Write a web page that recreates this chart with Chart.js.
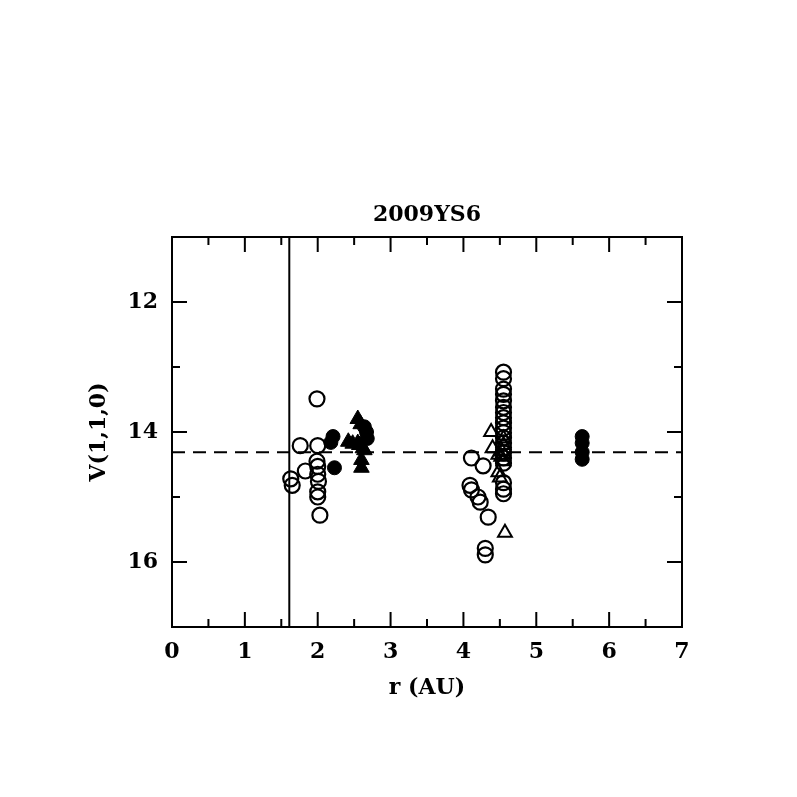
<!DOCTYPE html>
<html>
<head>
<meta charset="utf-8">
<script src="https://cdn.jsdelivr.net/npm/chart.js@4"></script>
<style>
  html, body { margin: 0; padding: 0; background: #fff; }
  canvas { display: block; }
</style>
</head>
<body>
<canvas id="chart" width="797" height="797"></canvas>
<script>
// r (AU), V(1,1,0)
const openCircleR = [1.63, 1.65, 1.76, 1.83, 1.99, 2.0, 1.99, 2.0, 2.0, 2.01, 2.0, 2.0, 2.03,
    4.11, 4.27, 4.09, 4.11, 4.2, 4.23, 4.34, 4.3, 4.3,
    4.55, 4.55, 4.55, 4.55, 4.55, 4.55, 4.55, 4.55, 4.55, 4.55, 4.55, 4.55, 4.55, 4.55, 4.55, 4.55, 4.55, 4.55, 4.55, 4.55];
const openCircleV = [14.72, 14.82, 14.21, 14.6, 13.49, 14.21, 14.45, 14.53, 14.65, 14.76, 14.92, 15.0, 15.28,
    14.4, 14.52, 14.82, 14.89, 15.0, 15.08, 15.31, 15.79, 15.89,
    13.08, 13.18, 13.34, 13.42, 13.52, 13.62, 13.7, 13.78, 13.86, 13.94, 14.01, 14.09, 14.17, 14.24, 14.32, 14.4, 14.48, 14.78, 14.88, 14.95];

const filledCircleR = [2.21, 2.18, 2.23, 2.64, 2.67, 2.68, 5.63, 5.63, 5.63, 5.63];
const filledCircleV = [14.07, 14.16, 14.55, 13.92, 14.0, 14.1, 14.07, 14.17, 14.31, 14.42];

const filledTriR = [2.42, 2.48, 2.55, 2.59, 2.62, 2.6, 2.6, 2.57, 2.64, 2.55];
const filledTriV = [14.15, 14.18, 13.8, 13.88, 14.25, 14.43, 14.55, 14.2, 14.28, 14.17];

const openTriR = [4.38, 4.4, 4.5, 4.57, 4.48, 4.52, 4.55, 4.55, 4.53, 4.48, 4.55];
const openTriV = [14.0, 14.25, 14.7, 15.55, 14.35, 14.38, 14.1, 14.45, 14.3, 14.62, 14.2];

const meanV = 14.31;       // dashed horizontal line
const rLimit = 1.61;       // solid vertical line
const xRange = [0, 7];
const yRange = [11, 17];
const yTickValues = [12, 14, 16];
const xMinorStep = 0.5;
const yMinorStep = 1;
const plotTitle = "2009YS6";

function pts(xs, ys) {
    return xs.map((x, i) => ({ x: x, y: ys[i] }));
}

const FONT = "'DejaVu Serif', serif";

// frame with inward ticks on all four sides, plus the title over the plot box
const framePlugin = {
    id: "frame",
    afterDatasetsDraw(chart) {
        const ctx = chart.ctx;
        const a = chart.chartArea;
        const xs = chart.scales.x;
        const ys = chart.scales.y;
        ctx.save();
        ctx.strokeStyle = "#000";
        ctx.lineWidth = 2;
        ctx.strokeRect(a.left, a.top, a.right - a.left, a.bottom - a.top);
        ctx.beginPath();
        for (let v = xRange[0]; v <= xRange[1] + 1e-9; v += xMinorStep) {
            const px = xs.getPixelForValue(v);
            const len = Math.abs(v - Math.round(v)) < 1e-9 ? 15 : 8;
            ctx.moveTo(px, a.bottom); ctx.lineTo(px, a.bottom - len);
            ctx.moveTo(px, a.top); ctx.lineTo(px, a.top + len);
        }
        for (let v = yRange[0]; v <= yRange[1] + 1e-9; v += yMinorStep) {
            const py = ys.getPixelForValue(v);
            const len = yTickValues.includes(v) ? 15 : 8;
            ctx.moveTo(a.left, py); ctx.lineTo(a.left + len, py);
            ctx.moveTo(a.right, py); ctx.lineTo(a.right - len, py);
        }
        ctx.stroke();

        ctx.fillStyle = "#000";
        ctx.font = "bold 22px " + FONT;
        ctx.textAlign = "center";
        ctx.textBaseline = "middle";
        ctx.fillText(plotTitle, (a.left + a.right) / 2, a.top - 22);
        ctx.restore();
    },
};

new Chart("chart", {
    type: "scatter",
    data: {
        datasets: [
            {
                type: "line",
                data: [{ x: xRange[0], y: meanV }, { x: xRange[1], y: meanV }],
                borderColor: "#000",
                borderWidth: 2,
                borderDash: [13, 8],
                pointRadius: 0,
            },
            {
                type: "line",
                data: [{ x: rLimit, y: yRange[0] }, { x: rLimit, y: yRange[1] }],
                borderColor: "#000",
                borderWidth: 2,
                pointRadius: 0,
            },
            {
                data: pts(openCircleR, openCircleV),
                pointStyle: "circle",
                pointRadius: 7.5,
                borderWidth: 2.2,
                borderColor: "#000",
                backgroundColor: "rgba(0,0,0,0)",
            },
            {
                data: pts(filledCircleR, filledCircleV),
                pointStyle: "circle",
                pointRadius: 7,
                borderWidth: 1,
                borderColor: "#000",
                backgroundColor: "#000",
            },
            {
                data: pts(filledTriR, filledTriV),
                pointStyle: "triangle",
                pointRadius: 9,
                borderWidth: 1,
                borderColor: "#000",
                backgroundColor: "#000",
            },
            {
                data: pts(openTriR, openTriV),
                pointStyle: "triangle",
                pointRadius: 8,
                borderWidth: 2,
                borderColor: "#000",
                backgroundColor: "rgba(0,0,0,0)",
            },
        ],
    },
    options: {
        responsive: false,
        animation: false,
        devicePixelRatio: 1,
        layout: { padding: { left: 0, right: 115, top: 237, bottom: 0 } },
        plugins: {
            legend: { display: false },
            tooltip: { enabled: false },
            title: { display: false },
        },
        scales: {
            x: {
                type: "linear",
                min: xRange[0],
                max: xRange[1],
                grid: { display: false },
                border: { display: false },
                ticks: {
                    stepSize: 1,
                    color: "#000",
                    padding: 4,
                    maxRotation: 0,
                    font: { family: FONT, size: 22, weight: "bold" },
                },
                title: {
                    display: true,
                    text: "r (AU)",
                    color: "#000",
                    font: { family: FONT, size: 22, weight: "bold", lineHeight: 1.2 },
                    padding: { top: 0, bottom: 96 },
                },
                afterFit(scale) { scale.height = 170; },
            },
            y: {
                type: "linear",
                reverse: true,
                min: yRange[0],
                max: yRange[1],
                grid: { display: false },
                border: { display: false },
                afterBuildTicks(scale) {
                    scale.ticks = yTickValues.map((v) => ({ value: v }));
                },
                ticks: {
                    color: "#000",
                    padding: 6,
                    font: { family: FONT, size: 22, weight: "bold" },
                },
                title: {
                    display: true,
                    text: "V(1,1,0)",
                    color: "#000",
                    font: { family: FONT, size: 22, weight: "bold", lineHeight: 1.2 },
                    padding: { top: 86, bottom: 0 },
                },
                afterFit(scale) { scale.width = 172; },
            },
        },
    },
    plugins: [framePlugin],
});
</script>
</body>
</html>
